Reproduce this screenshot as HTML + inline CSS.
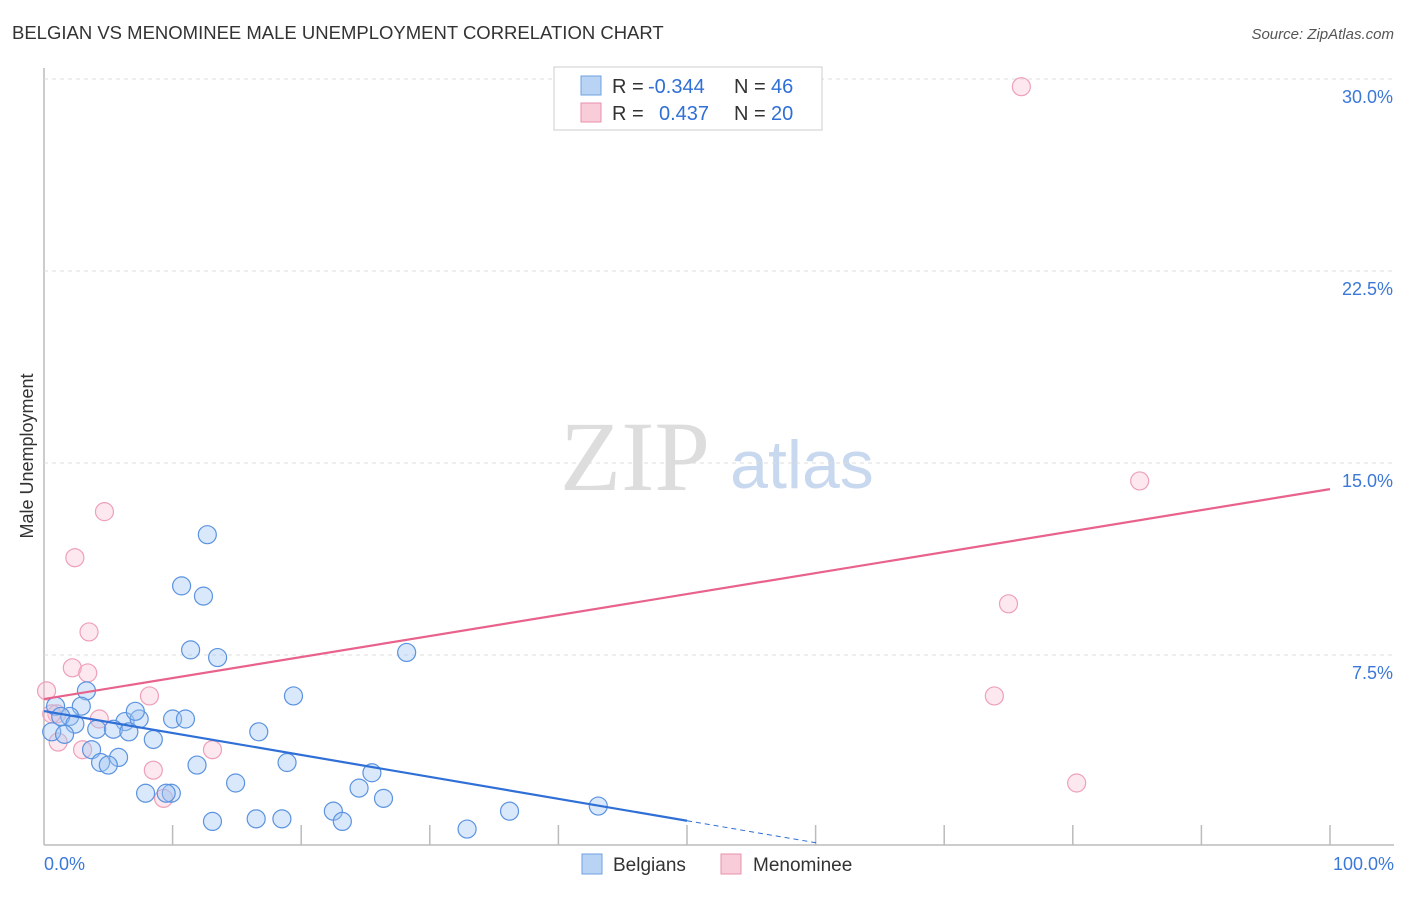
<!DOCTYPE html>
<html><head><meta charset="utf-8"><style>
body{margin:0;background:#fff;font-family:"Liberation Sans",sans-serif;}
</style></head><body>
<svg width="1406" height="892" id="c" font-family="Liberation Sans, sans-serif">
<text x="12" y="39" font-size="18.5" fill="#333">BELGIAN VS MENOMINEE MALE UNEMPLOYMENT CORRELATION CHART</text>
<text x="1394" y="39" font-size="15" fill="#555" font-style="italic" text-anchor="end">Source: ZipAtlas.com</text>
<text x="33" y="456" font-size="18" fill="#333" transform="rotate(-90 33 456)" text-anchor="middle">Male Unemployment</text>
<text x="635" y="490" font-size="100" fill="#ddd" style="font-family:'Liberation Serif',serif" text-anchor="middle">ZIP</text>
<text x="802" y="488" font-size="68" fill="#c8d8ee" text-anchor="middle">atlas</text>
<g id="grid"></g><g id="pts"></g><g id="lines"></g>
<g font-size="20">
<rect x="554" y="67" width="268" height="63" fill="#fff" stroke="#ccc"/>
<rect x="581" y="76" width="20" height="19" fill="#b9d3f5" stroke="#6fa0e0"/>
<rect x="581" y="103" width="20" height="19" fill="#f9ccd9" stroke="#e890ab"/>
<text x="612" y="93" fill="#333">R =</text><text x="648" y="93" fill="#2f6fd6">-0.344</text>
<text x="734" y="93" fill="#333">N =</text><text x="771" y="93" fill="#2f6fd6">46</text>
<text x="612" y="120" fill="#333">R =</text><text x="659" y="120" fill="#2f6fd6">0.437</text>
<text x="734" y="120" fill="#333">N =</text><text x="771" y="120" fill="#2f6fd6">20</text>
</g>
<g>
<rect x="582" y="854" width="20" height="20" fill="#b9d3f5" stroke="#6fa0e0"/>
<text x="613" y="871" font-size="19" fill="#333">Belgians</text>
<rect x="721" y="854" width="20" height="20" fill="#f9ccd9" stroke="#e890ab"/>
<text x="753" y="871" font-size="19" fill="#333">Menominee</text>
</g>
</svg>
<script>
const yTicks=[7.5,15,22.5,30];
const yTickLabels=["7.5%","15.0%","22.5%","30.0%"];
const xTicks=[10,20,30,40,50,60,70,80,90,100];
const blueX=[12.7,10.7,12.4,11.4,13.5,28.2,19.4,3.3,2.9,0.9,2.0,1.3,2.4,4.1,0.6,1.6,6.3,7.4,7.1,5.4,6.6,8.5,10.0,11.0,3.7,5.8,4.4,5.0,16.7,11.9,18.9,25.5,14.9,9.9,7.9,9.5,24.5,26.4,22.5,23.2,13.1,16.5,18.5,32.9,36.2,43.1];
const blueY=[12.2,10.2,9.8,7.7,7.4,7.6,5.9,6.1,5.5,5.5,5.1,5.1,4.8,4.6,4.5,4.4,4.9,5.0,5.3,4.6,4.5,4.2,5.0,5.0,3.8,3.5,3.3,3.2,4.5,3.2,3.3,2.9,2.5,2.1,2.1,2.1,2.3,1.9,1.4,1.0,1.0,1.1,1.1,0.7,1.4,1.6];
const pinkX=[76.0,85.2,75.0,73.9,80.3,4.7,2.4,3.5,2.2,3.4,0.2,8.2,4.3,1.0,1.1,3.0,13.1,8.5,9.3,0.6];
const pinkY=[29.7,14.3,9.5,5.9,2.5,13.1,11.3,8.4,7.0,6.8,6.1,5.9,5.0,5.2,4.1,3.8,3.8,3.0,1.9,5.2];
const blueLine=[5.31,-0.0857];
const pinkLine=[5.78,0.082];
const X=v=>44+v*12.86, Y=v=>847-v*25.6;
const NS="http://www.w3.org/2000/svg";
function mk(t,a,p){const e=document.createElementNS(NS,t);for(const k in a)e.setAttribute(k,a[k]);p.appendChild(e);return e;}
const g=document.getElementById('grid');
const ax=mk('line',{x1:44,y1:68,x2:44,y2:845,stroke:'#bbb','stroke-width':1.5},g);


const bx=mk('line',{x1:44,y1:845,x2:1394,y2:845,stroke:'#bbb','stroke-width':1.5},g);


yTicks.forEach((t,i)=>{
 const l=mk('line',{x1:44,y1:Y(t),x2:1394,y2:Y(t),stroke:'#ddd','stroke-dasharray':'4,4'},g);
 
 
 const tx=mk('text',{x:1393,y:Y(t)+24,'font-size':18,fill:'#3b78d8','text-anchor':'end'},g);
 tx.textContent=yTickLabels[i];
 
 
});
xTicks.forEach(t=>{
 const l=mk('line',{x1:X(t),y1:825,x2:X(t),y2:845,stroke:'#bbb','stroke-width':1.5},g);
 
 
});
const t0=mk('text',{x:44,y:870,'font-size':18,fill:'#3b78d8'},g);t0.textContent='0.0%';


const t1=mk('text',{x:1394,y:870,'font-size':18,fill:'#3b78d8','text-anchor':'end'},g);t1.textContent='100.0%';


const p=document.getElementById('pts');
pinkX.forEach((x,i)=>{const c=mk('circle',{cx:X(x),cy:Y(pinkY[i]),r:9,fill:'rgba(248,190,210,0.35)',stroke:'#eea0b8','stroke-width':1.2},p);
 
 });
blueX.forEach((x,i)=>{const c=mk('circle',{cx:X(x),cy:Y(blueY[i]),r:9,fill:'rgba(160,198,242,0.4)',stroke:'#5b93e0','stroke-width':1.2},p);
 
 });
const L=document.getElementById('lines');
const pl=mk('line',{x1:X(0),y1:Y(pinkLine[0]),x2:X(100),y2:Y(pinkLine[0]+100*pinkLine[1]),stroke:'#e8628c','stroke-width':2.2},L);


const bl=mk('line',{x1:X(0),y1:Y(blueLine[0]),x2:X(50),y2:Y(blueLine[0]+50*blueLine[1]),stroke:'#2f6fd6','stroke-width':2.2},L);


const bd=mk('line',{x1:X(50),y1:Y(blueLine[0]+50*blueLine[1]),x2:X(60.3),y2:Y(blueLine[0]+60.3*blueLine[1]),stroke:'#2f6fd6','stroke-width':1,'stroke-dasharray':'5,4'},L);


</script>
</body></html>
